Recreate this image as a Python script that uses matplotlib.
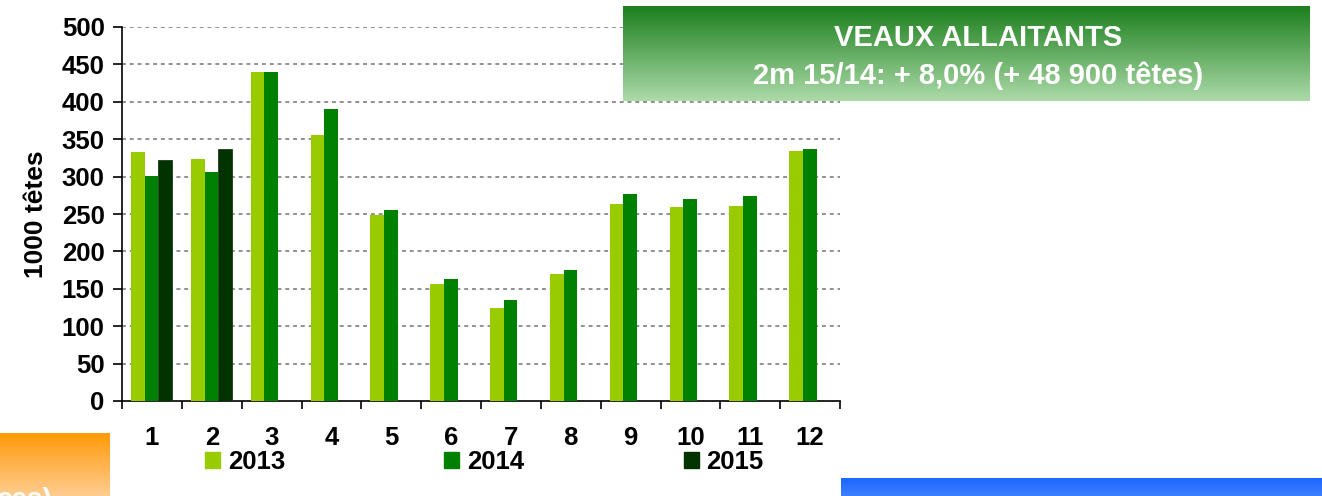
import matplotlib
matplotlib.use("Agg")
import matplotlib.pyplot as plt
import numpy as np
from matplotlib.patches import Patch

# ── données (1000 têtes) ──
months = ["1", "2", "3", "4", "5", "6", "7", "8", "9", "10", "11", "12"]
v2013 = [333, 324, 440, 356, 248, 156, 124, 170, 263, 259, 261, 334]
v2014 = [301, 306, 440, 390, 255, 163, 135, 175, 277, 270, 274, 337]
v2015 = [322, 337, np.nan, np.nan, np.nan, np.nan, np.nan, np.nan, np.nan, np.nan, np.nan, np.nan]
years = ["2013", "2014", "2015"]
y_ticks = [0, 50, 100, 150, 200, 250, 300, 350, 400, 450, 500]

title_lines = ["VEAUX ALLAITANTS", "2m 15/14: + 8,0% (+ 48 900 têtes)"]

plt.rcParams["font.family"] = ["Liberation Sans", "DejaVu Sans"]
plt.rcParams["font.weight"] = "bold"

W, H = 1322, 496
fig = plt.figure(figsize=(W / 100, H / 100), dpi=100)

# axes en pixels
x0, x1, y0, y1 = 122, 840, 401, 27
ax = fig.add_axes([x0 / W, 1 - y0 / H, (x1 - x0) / W, (y0 - y1) / H])

colors = ["#99cc00", "#008000", "#003300"]
series = [v2013, v2014, v2015]
bw = 0.228
off = 0.152
idx = np.arange(len(months))
for k, (vals, col) in enumerate(zip(series, colors)):
    ax.bar(idx + off + k * bw, vals, width=bw, align="edge", color=col,
           edgecolor="#1a3d1a" if k == 2 else col, linewidth=0.6 if k == 2 else 0,
           zorder=3, label=years[k])

ax.set_xlim(0, 12)
ax.set_ylim(0, 500)
ax.set_yticks(y_ticks)
ax.set_yticklabels([str(t) for t in y_ticks], fontsize=18.5, fontweight="bold")
ax.set_xticks(np.arange(13))
ax.set_xticklabels([])
ax.set_xticks(idx + 0.5, minor=True)
ax.set_xticklabels(months, minor=True, fontsize=18.5, fontweight="bold")
ax.tick_params(axis="x", which="major", direction="out", length=6, width=1.2)
ax.tick_params(axis="x", which="minor", length=0, pad=18)
ax.tick_params(axis="y", direction="out", length=6.5, width=1.2, pad=6)

for t in y_ticks[1:]:
    ax.axhline(t, color="#909090", lw=1.4, ls=(0, (2, 2)), zorder=1)

for s in ["top", "right"]:
    ax.spines[s].set_visible(False)
for s in ["left", "bottom"]:
    ax.spines[s].set_linewidth(1.2)

ax.set_ylabel("1000 têtes", fontsize=19, fontweight="bold", labelpad=10)

handles = [Patch(facecolor=c, edgecolor=c) for c in colors]
fig.legend(handles, years, loc="center left", bbox_to_anchor=(205 / W, 1 - 462 / H),
           ncol=3, frameon=False, handlelength=0.58, handleheight=0.58,
           handletextpad=0.31, columnspacing=6.2, borderpad=0, borderaxespad=0,
           prop={"weight": "bold", "size": 18.5})

# ── encadrés ──
ov = fig.add_axes([0, 0, 1, 1], zorder=5)
ov.set_xlim(0, W)
ov.set_ylim(H, 0)
ov.axis("off")
ov.patch.set_alpha(0)


def grad_box(a, x, y, w, h, top, bottom):
    top = np.array(matplotlib.colors.to_rgb(top))
    bottom = np.array(matplotlib.colors.to_rgb(bottom))
    t = np.linspace(0, 1, 100)[:, None]
    img = (top[None, :] * (1 - t) + bottom[None, :] * t)[:, None, :]
    a.imshow(img, extent=(x, x + w, y + h, y), aspect="auto", interpolation="bilinear", zorder=1)


grad_box(ov, 623, 6, 687, 95, "#1c7f1c", "#acdaa9")
ov.text(978, 38, title_lines[0], color="white", fontsize=21, fontweight="bold",
        ha="center", va="center", zorder=2)
ov.text(978, 76, title_lines[1], color="white", fontsize=21, fontweight="bold",
        ha="center", va="center", zorder=2)

grad_box(ov, 0, 433, 110, 70, "#ff9a08", "#ffd2a0")
ov.text(52, 487, "ces)", color="white", fontsize=20, fontweight="bold",
        ha="right", va="top", zorder=2)

grad_box(ov, 841, 478, 481, 25, "#1c66ff", "#4a88ff")

ov.set_xlim(0, W)
ov.set_ylim(H, 0)

fig.savefig("out.png", dpi=100)
